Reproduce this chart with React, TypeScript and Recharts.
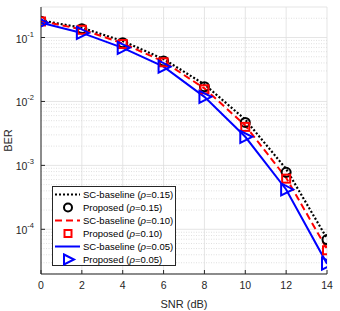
import React from "react";
import { LineChart, Line, XAxis, YAxis, CartesianGrid, ReferenceLine, Legend } from "recharts";

const snr = [0, 2, 4, 6, 8, 10, 12, 14];
const scBaseline015 = [0.185, 0.142, 0.088, 0.046, 0.0185, 0.0052, 0.00088, 0.000072];
const proposed015 = [0.18, 0.137, 0.083, 0.043, 0.017, 0.0047, 0.00078, 0.000069];
const scBaseline010 = [0.18, 0.134, 0.081, 0.042, 0.016, 0.0042, 0.00064, 0.000049];
const proposed010 = [0.178, 0.132, 0.079, 0.041, 0.0155, 0.004, 0.00062, 0.000047];
const scBaseline005 = [0.17, 0.118, 0.069, 0.035, 0.0118, 0.0028, 0.00042, 0.000029];
const proposed005 = [0.17, 0.118, 0.069, 0.035, 0.0118, 0.0028, 0.00042, 0.000029];
const xTicks = [0, 2, 4, 6, 8, 10, 12, 14];
const yTicks = [1e-4, 1e-3, 1e-2, 1e-1];
const yDomain = [2e-5, 0.3];
const minorTicks: number[] = [];
for (let d = -5; d <= -1; d++) {
  for (let k = 2; k <= 9; k++) {
    const v = k * Math.pow(10, d);
    if (v >= yDomain[0] && v <= yDomain[1]) minorTicks.push(v);
  }
}

const data = snr.map((s, i) => ({
  snr: s,
  b15: scBaseline015[i],
  p15: proposed015[i],
  b10: scBaseline010[i],
  p10: proposed010[i],
  b05: scBaseline005[i],
  p05: proposed005[i],
}));

const AX = "#262626";
const FONT = "'Liberation Sans', Arial, Helvetica, sans-serif";

const YTick = (props: any) => {
  const { x, y, payload } = props;
  const exp = Math.round(Math.log10(payload.value));
  return (
    <text x={x} y={y} textAnchor="end" fontSize={10.5} fill={AX} fontFamily={FONT}>
      <tspan dy={5}>10</tspan>
      <tspan dy={-6} fontSize={7.5}>{exp}</tspan>
    </text>
  );
};

const YLabel = (props: any) => {
  const { viewBox } = props;
  const cy = viewBox.y + viewBox.height / 2;
  const cx = 12;
  return (
    <text x={cx} y={cy} transform={`rotate(-90 ${cx} ${cy})`} textAnchor="middle" fontSize={11} fill={AX} fontFamily={FONT}>
      BER
    </text>
  );
};

const CircleDot = (props: any) => {
  const { cx, cy } = props;
  if (cx == null || cy == null) return null;
  return <circle cx={cx} cy={cy} r={4.5} fill="none" stroke="#000" strokeWidth={2} />;
};
const SquareDot = (props: any) => {
  const { cx, cy } = props;
  if (cx == null || cy == null) return null;
  return <rect x={cx - 4} y={cy - 4} width={8} height={8} fill="none" stroke="#ff0000" strokeWidth={2} />;
};
const TriDot = (props: any) => {
  const { cx, cy } = props;
  if (cx == null || cy == null) return null;
  return (
    <polygon
      points={`${cx - 5},${cy - 6} ${cx + 7},${cy} ${cx - 5},${cy + 6}`}
      fill="none"
      stroke="#0000ff"
      strokeWidth={2}
    />
  );
};

const legendRows = [
  { kind: "line", color: "#000", dash: "2 2", w: 2.2, name: "SC-baseline", rho: "0.15" },
  { kind: "circle", color: "#000", name: "Proposed", rho: "0.15" },
  { kind: "line", color: "#ff0000", dash: "7 4", w: 2, name: "SC-baseline", rho: "0.10" },
  { kind: "square", color: "#ff0000", name: "Proposed", rho: "0.10" },
  { kind: "line", color: "#0000ff", dash: undefined, w: 2, name: "SC-baseline", rho: "0.05" },
  { kind: "tri", color: "#0000ff", name: "Proposed", rho: "0.05" },
];

const LegendBox = () => (
  <div
    style={{
      width: 124,
      height: 80,
      boxSizing: "border-box",
      border: `1px solid ${AX}`,
      background: "#fff",
      fontFamily: FONT,
      fontSize: 9.5,
      color: "#000",
      paddingTop: 1,
    }}
  >
    {legendRows.map((r, i) => (
      <div key={i} style={{ display: "flex", alignItems: "center", height: 13, whiteSpace: "nowrap" }}>
        <svg width={29} height={13} style={{ flex: "none" }}>
          {r.kind === "line" && (
            <line x1={2} x2={27} y1={6.5} y2={6.5} stroke={r.color} strokeWidth={r.w} strokeDasharray={r.dash} />
          )}
          {r.kind === "circle" && <circle cx={15} cy={6.5} r={4} fill="none" stroke="#000" strokeWidth={2} />}
          {r.kind === "square" && (
            <rect x={11.5} y={3} width={7} height={7} fill="none" stroke="#ff0000" strokeWidth={2} />
          )}
          {r.kind === "tri" && (
            <polygon points="11,1.5 21,6.5 11,11.5" fill="none" stroke="#0000ff" strokeWidth={2} />
          )}
        </svg>
        <span style={{ marginLeft: 1 }}>
          {r.name} (<i>ρ</i>={r.rho})
        </span>
      </div>
    ))}
  </div>
);

export default function App() {
  return (
    <div style={{ position: "absolute", left: 0, top: 0, width: 340, height: 311, background: "#fff" }}>
      <LineChart
        width={340}
        height={311}
        data={data}
        margin={{ top: 7, right: 13, bottom: 0, left: 0 }}
        style={{ fontFamily: FONT }}
      >
        {minorTicks.map((v) => (
          <ReferenceLine key={v} y={v} stroke="#d8d8d8" strokeWidth={0.8} strokeDasharray="1 1.5" ifOverflow="hidden" />
        ))}
        <CartesianGrid stroke="#dedede" strokeWidth={0.8} />
        <XAxis
          dataKey="snr"
          type="number"
          domain={[0, 14]}
          ticks={xTicks}
          stroke={AX}
          tick={{ fill: AX, fontSize: 10.5, fontFamily: FONT }}
          tickSize={-4}
          tickMargin={12}
          allowDataOverflow
          label={{ value: "SNR (dB)", position: "insideBottom", offset: 3, fill: AX, fontSize: 11 }}
          height={37}
        />
        <XAxis xAxisId="top" orientation="top" type="number" domain={[0, 14]} ticks={xTicks} tick={false} tickSize={-4} stroke={AX} height={0} />
        <YAxis
          scale="log"
          type="number"
          domain={yDomain}
          ticks={yTicks}
          allowDataOverflow
          stroke={AX}
          tick={<YTick />}
          tickSize={-4}
          tickMargin={11}
          width={41}
          label={<YLabel />}
        />
        <YAxis yAxisId="right" orientation="right" scale="log" type="number" domain={yDomain} ticks={yTicks} tick={false} tickSize={-4} stroke={AX} width={0} />
        <Line dataKey="b15" stroke="#000" strokeWidth={2.2} strokeDasharray="2 2" dot={false} isAnimationActive={false} legendType="none" />
        <Line dataKey="p15" stroke="none" dot={<CircleDot />} isAnimationActive={false} legendType="none" />
        <Line dataKey="b10" stroke="#ff0000" strokeWidth={2} strokeDasharray="7 4" dot={false} isAnimationActive={false} legendType="none" />
        <Line dataKey="p10" stroke="none" dot={<SquareDot />} isAnimationActive={false} legendType="none" />
        <Line dataKey="b05" stroke="#0000ff" strokeWidth={2} dot={false} isAnimationActive={false} legendType="none" />
        <Line dataKey="p05" stroke="none" dot={<TriDot />} isAnimationActive={false} legendType="none" />
        <Legend
          layout="horizontal"
          verticalAlign="middle"
          align="center"
          content={<LegendBox />}
          wrapperStyle={{ position: "absolute", left: 52, top: 186, width: 124, height: 80 }}
        />
      </LineChart>
    </div>
  );
}
